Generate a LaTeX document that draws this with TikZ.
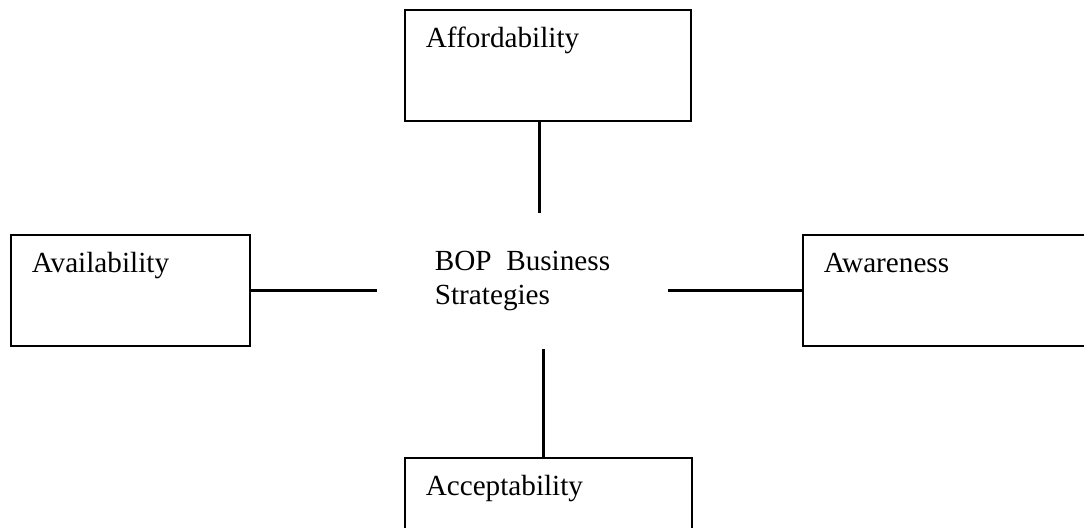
\documentclass[tikz,border=0pt]{standalone}
\usepackage{fontspec}
\setmainfont{Liberation Serif}
\usepackage{tikz}
\usetikzlibrary{calc,positioning}

\begin{document}
\begin{tikzpicture}[x=0.5pt, y=-0.5pt,
font=\fontsize{14.6pt}{17pt}\selectfont,
factor/.style={draw, line width=0.75pt, anchor=north west, align=left,
  inner xsep=10.5pt, inner ysep=0pt, text height=19pt, text depth=36.5pt},
centre/.style={inner sep=0pt, minimum width=145.5pt, minimum height=68pt, align=left},
link/.style={line width=1.5pt}]

   % page size of the reference
   \useasboundingbox (0,0) rectangle (1084,527);

   \node[factor, text width=122pt] at (404,9) (afford) {Affordability};
   \node[factor, text width=98.5pt] at (10,234) (avail) {Availability};
   \node[factor, text width=140pt] at (802,234) (aware) {Awareness};
   \node[factor, text width=122.5pt] at (404,457) (accept) {Acceptability};

   \node[centre] at (522.5,281) (bop) {BOP\ \ Business\\Strategies};

   \path [link] ([xshift=-4pt]afford.south) edge ([xshift=-4pt]afford.south |- bop.north)
                (avail.east) edge (avail.east -| bop.west)
                (aware.west -| bop.east) edge (aware.west)
                ([xshift=-2.25pt]accept.north |- bop.south) edge ([xshift=-2.25pt]accept.north);

\end{tikzpicture}
\end{document}
